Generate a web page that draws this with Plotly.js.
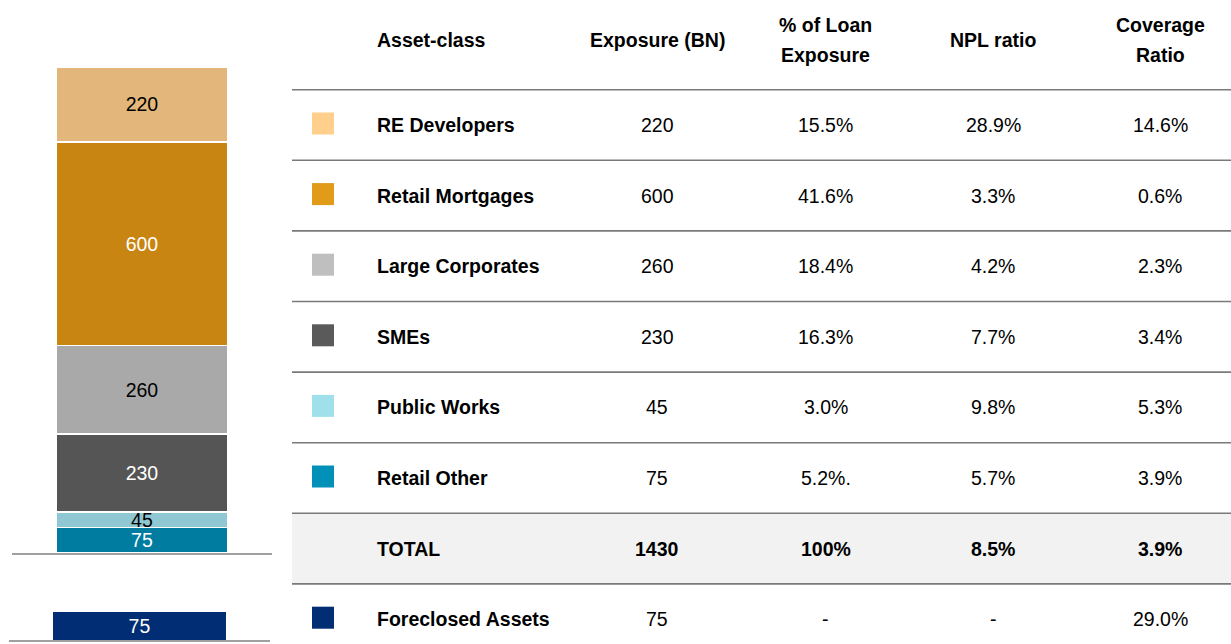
<!DOCTYPE html>
<html>
<head>
<meta charset="utf-8">
<script src="https://cdn.plot.ly/plotly-3.0.1.min.js"></script>
<style>html,body{margin:0;padding:0;background:#fff;}#chart{width:1231px;height:644px;}</style>
</head>
<body>
<div id="chart"></div>
<script>
// ---- data ----
const categories = ['RE Developers', 'Retail Mortgages', 'Large Corporates', 'SMEs', 'Public Works', 'Retail Other'];
const exposure = [220, 600, 260, 230, 45, 75];
const pctLoan = ['15.5%', '41.6%', '18.4%', '16.3%', '3.0%', '5.2%.'];
const nplRatio = ['28.9%', '3.3%', '4.2%', '7.7%', '9.8%', '5.7%'];
const coverage = ['14.6%', '0.6%', '2.3%', '3.4%', '5.3%', '3.9%'];
const totalRow = ['TOTAL', '1430', '100%', '8.5%', '3.9%'];
const foreclosedName = 'Foreclosed Assets';
const foreclosedExposure = 75;
const foreclosedRow = ['-', '-', '29.0%'];
const headers = [['Asset-class'], ['Exposure (BN)'], ['% of Loan', 'Exposure'], ['NPL ratio'], ['Coverage', 'Ratio']];

// ---- styles ----
const barColors = ['#E3B77B', '#C88511', '#A9A9A9', '#555555', '#8FC7D3', '#007CA1'];
const barTextColors = ['#000000', '#FFFFFF', '#000000', '#FFFFFF', '#000000', '#FFFFFF'];
const legendColors = ['#FFCF8B', '#E29A19', '#BFBFBF', '#5A5A5A', '#A0E0EB', '#0090B8'];
const foreclosedColor = '#002D73';
const FONT = '"Liberation Sans", Arial, sans-serif';
const FS = 19.5;
const W = 1231, H = 644;
const px = x => x / W;
const py = y => 1 - y / H;

// ---- bars ----
const traces = [];
for (let i = categories.length - 1; i >= 0; i--) {
  traces.push({
    type: 'bar', x: ['a'], y: [exposure[i]], name: categories[i],
    xaxis: 'x', yaxis: 'y',
    marker: {color: barColors[i], line: {color: '#FFFFFF', width: 1.5}},
    text: [String(exposure[i])], textposition: 'inside', insidetextanchor: 'middle',
    textangle: 0, constraintext: 'none',
    textfont: {family: FONT, size: FS, color: barTextColors[i]},
    hoverinfo: 'skip', showlegend: false
  });
}
traces.push({
  type: 'bar', x: ['a'], y: [foreclosedExposure], name: foreclosedName,
  xaxis: 'x2', yaxis: 'y2',
  marker: {color: foreclosedColor, line: {width: 0}},
  text: [String(foreclosedExposure)], textposition: 'inside', insidetextanchor: 'middle',
  textangle: 0, constraintext: 'none',
  textfont: {family: FONT, size: FS, color: '#FFFFFF'},
  hoverinfo: 'skip', showlegend: false
});

// ---- table ----
const shapes = [], annotations = [];
const rowY0 = 125, rowPitch = 70.6;
const colX = [375, 657, 826, 993, 1160];
const lineColor = '#7A7A7A';
const tableLeft = 292;
const totalIdx = categories.length;
const foreIdx = categories.length + 1;

// total background
shapes.push({type: 'rect', xref: 'paper', yref: 'paper', layer: 'below',
  x0: px(tableLeft), x1: 1, y0: py(rowY0 + totalIdx * rowPitch - rowPitch / 2), y1: py(rowY0 + totalIdx * rowPitch + rowPitch / 2),
  fillcolor: '#F2F2F2', line: {width: 0}});
// horizontal lines
for (let r = 0; r <= totalIdx + 1; r++) {
  const yy = rowY0 + r * rowPitch - rowPitch / 2;
  shapes.push({type: 'line', xref: 'paper', yref: 'paper', x0: px(tableLeft), x1: 1, y0: py(yy), y1: py(yy),
    line: {color: lineColor, width: 1.6}});
}
function addText(text, x, y, anchor, bold) {
  annotations.push({xref: 'paper', yref: 'paper', x: px(x), y: py(y), xanchor: anchor, yanchor: 'middle',
    text: bold ? '<b>' + text + '</b>' : text, showarrow: false,
    font: {family: FONT, size: FS, color: '#000000'}});
}
// headers
headers.forEach((h, c) => {
  const anchor = c === 0 ? 'left' : 'center';
  if (h.length === 1) addText(h[0], colX[c], 40, anchor, true);
  else { addText(h[0], colX[c], 25, anchor, true); addText(h[1], colX[c], 55, anchor, true); }
});
// category rows
function square(color, yc) {
  shapes.push({type: 'rect', xref: 'paper', yref: 'paper', x0: px(312), x1: px(334),
    y0: py(yc - 1.5 + 11), y1: py(yc - 1.5 - 11), fillcolor: color, line: {width: 0}});
}
categories.forEach((cat, i) => {
  const yc = rowY0 + i * rowPitch;
  square(legendColors[i], yc);
  addText(cat, colX[0], yc, 'left', true);
  addText(String(exposure[i]), colX[1], yc, 'center', false);
  addText(pctLoan[i], colX[2], yc, 'center', false);
  addText(nplRatio[i], colX[3], yc, 'center', false);
  addText(coverage[i], colX[4], yc, 'center', false);
});
// total row
{
  const yc = rowY0 + totalIdx * rowPitch;
  totalRow.forEach((t, c) => addText(t, colX[c], yc, c === 0 ? 'left' : 'center', true));
}
// foreclosed row
{
  const yc = rowY0 + foreIdx * rowPitch;
  square(foreclosedColor, yc);
  addText(foreclosedName, colX[0], yc, 'left', true);
  addText(String(foreclosedExposure), colX[1], yc, 'center', false);
  foreclosedRow.forEach((t, k) => addText(t, colX[k + 2], yc, 'center', false));
}

const total = exposure.reduce((a, b) => a + b, 0);
const layout = {
  width: W, height: H,
  margin: {l: 0, r: 0, t: 0, b: 0},
  paper_bgcolor: '#FFFFFF', plot_bgcolor: 'rgba(0,0,0,0)',
  barmode: 'stack', bargap: 0.34,
  showlegend: false,
  font: {family: FONT},
  xaxis: {domain: [px(12), px(272)], anchor: 'y', showline: true, linecolor: '#A0A0A0', linewidth: 1.6,
    showticklabels: false, ticks: '', showgrid: false, zeroline: false, fixedrange: true},
  yaxis: {domain: [py(553), py(67)], range: [0, total], visible: false, fixedrange: true},
  xaxis2: {domain: [px(9), px(270)], anchor: 'y2', showline: true, linecolor: '#A0A0A0', linewidth: 1.6,
    showticklabels: false, ticks: '', showgrid: false, zeroline: false, fixedrange: true},
  yaxis2: {domain: [py(640), py(606)], range: [0, 91], visible: false, fixedrange: true},
  shapes: shapes,
  annotations: annotations
};
Plotly.newPlot('chart', traces, layout, {displayModeBar: false, staticPlot: true});
</script>
</body>
</html>
